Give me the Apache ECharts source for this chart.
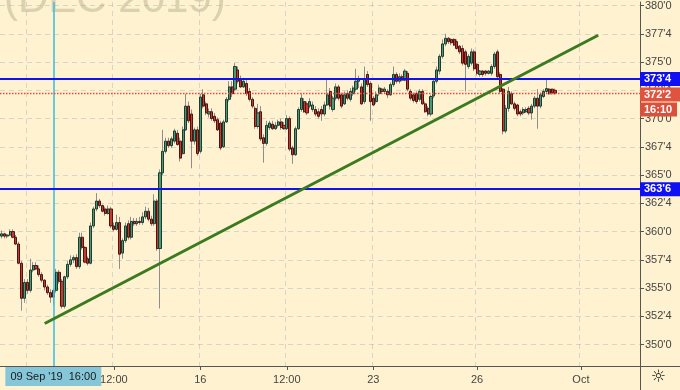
<!DOCTYPE html>
<html><head><meta charset="utf-8">
<script src="https://cdn.jsdelivr.net/npm/echarts@6/dist/echarts.min.js"></script>
<style>html,body{margin:0;padding:0;background:#fef2d0}#c{width:680px;height:390px}</style>
</head><body><div id="c"></div>
<script>
const opens = [
359.6,359.8,359.6,359.7,360.0,359.5,358.9,357.2,354.1,355.5,
354.8,356.6,357.0,356.7,356.2,355.7,355.1,354.6,354.2,354.8,
356.4,355.6,353.4,356.0,357.1,357.5,357.7,356.9,359.5,358.6,
357.6,357.2,360.5,362.0,362.7,362.3,362.0,361.6,362.0,360.5,
360.2,360.8,358.1,359.2,360.7,359.5,360.9,360.7,360.9,360.8,
361.3,361.8,361.1,360.7,362.7,358.5,365.2,367.1,368.0,367.6,
368.0,368.7,368.0,366.9,369.0,371.1,370.4,368.0,369.0,367.1,
372.1,371.3,370.4,370.6,370.2,369.9,369.6,367.5,369.7,371.7,
372.8,372.6,374.3,373.4,372.8,373.1,372.4,371.7,370.9,369.3,
370.6,368.3,367.8,369.2,369.5,369.1,369.4,369.7,369.4,369.1,
370.0,367.4,366.8,369.1,370.8,371.5,371.3,371.1,370.8,370.8,
370.6,370.8,370.4,371.2,372.4,370.8,371.8,372.8,372.1,371.3,
372.2,371.7,372.2,372.6,373.3,372.8,371.5,373.9,373.1,371.8,
371.5,372.2,372.6,372.4,372.4,372.1,373.0,373.9,373.3,373.7,
373.4,374.0,372.4,372.1,372.2,371.7,372.4,371.3,370.9,370.4,
372.0,373.3,374.2,375.5,376.6,377.1,377.0,377.0,376.8,376.4,
376.2,375.9,374.6,374.9,375.9,374.8,373.9,374.2,374.2,374.0,
374.0,374.6,375.9,373.9,372.6,368.9,370.9,372.2,371.3,371.2,
370.6,370.5,370.6,370.9,370.5,371.1,371.8,371.1,371.95,372.4,
372.6,372.6,372.5
];
const closes = [
359.8,359.6,359.7,360.0,359.5,358.9,357.2,354.1,355.5,354.8,
356.6,357.0,356.7,356.2,355.7,355.1,354.6,354.2,354.8,356.4,
355.6,353.4,356.0,357.1,357.5,357.7,356.9,359.5,358.6,357.3,
357.2,360.5,362.0,362.7,362.3,361.8,361.6,362.0,360.5,360.2,
360.8,358.0,359.2,360.5,359.5,360.9,360.7,360.9,360.8,361.3,
361.8,361.1,360.7,362.7,358.5,365.2,367.1,368.0,367.6,368.2,
368.9,367.7,366.5,369.0,371.1,369.8,368.0,369.0,366.9,371.9,
371.1,370.5,370.6,370.0,369.8,369.0,367.4,369.7,371.7,372.8,
372.2,374.6,373.3,372.8,373.3,372.2,371.7,371.1,369.3,370.5,
368.2,367.8,369.4,369.6,369.1,369.4,369.7,369.2,369.1,370.0,
367.3,366.8,369.1,370.8,371.8,370.6,370.5,371.5,371.2,370.4,
370.2,370.4,371.2,372.1,371.1,371.8,372.8,371.8,371.1,372.1,
371.8,372.4,372.7,373.3,373.5,371.3,373.5,373.0,371.5,371.2,
372.1,372.7,372.4,372.6,372.1,373.0,373.9,373.3,373.7,373.4,
374.2,372.6,371.8,371.6,371.5,372.4,371.3,370.6,370.4,371.95,
373.3,374.3,375.5,376.6,377.1,376.8,376.7,376.5,376.2,375.9,
374.9,374.8,375.5,375.9,374.4,374.0,374.2,373.9,374.0,374.2,
374.6,375.7,373.7,372.4,368.9,370.9,372.4,371.3,370.9,370.4,
370.4,370.8,370.8,370.5,371.1,371.8,371.1,372.1,372.4,372.65,
372.2,372.3,372.25
];
const lows = [
359.4,359.4,359.4,359.6,359.4,358.8,357.1,353.0,353.7,354.5,
354.6,356.4,356.6,356.0,355.5,354.8,354.4,353.7,353.5,354.6,
355.4,353.2,353.2,355.8,356.9,357.2,356.7,356.7,358.4,357.2,
357.0,357.1,360.3,361.8,362.1,361.7,361.4,361.5,360.3,360.0,
360.1,356.7,357.6,359.0,359.3,359.3,360.5,360.5,360.6,360.6,
361.1,360.9,360.5,360.5,358.3,353.2,365.0,366.9,367.4,367.4,
367.8,367.6,366.2,366.8,368.9,369.6,365.6,367.7,366.7,366.9,
370.9,370.3,370.1,369.8,369.6,368.9,367.2,367.4,369.6,371.5,
371.9,372.4,373.1,372.7,372.7,372.0,371.5,370.9,369.1,369.1,
368.0,366.1,367.6,369.0,369.0,369.0,369.2,369.0,369.0,369.0,
367.1,366.0,366.7,369.0,370.6,370.5,370.3,370.9,370.6,370.2,
370.0,369.8,370.2,371.1,370.8,370.6,371.6,371.6,370.9,371.2,
371.6,371.5,372.0,372.4,372.7,371.2,371.3,372.8,369.8,371.1,
371.3,372.0,372.2,372.2,371.8,372.0,372.8,373.1,373.1,373.3,
373.3,372.4,371.6,371.4,371.3,371.5,371.2,370.5,370.2,370.2,
371.8,373.1,373.9,375.3,376.4,376.6,376.5,376.4,376.1,375.7,
374.7,372.4,374.4,374.7,374.2,373.8,373.7,373.7,373.8,373.9,
373.8,374.4,373.5,372.2,368.6,368.7,370.6,371.2,370.7,370.2,
370.2,370.3,370.5,370.3,369.9,370.9,369.1,370.9,371.8,372.2,
372.1,372.1,372.1
];
const highs = [
360.1,359.9,359.8,360.2,360.2,359.7,359.1,357.4,355.8,355.8,
357.6,357.3,357.3,357.0,356.4,355.8,355.3,354.9,355.0,356.7,
356.6,355.8,356.1,357.4,357.9,357.9,358.0,359.9,359.9,358.7,
357.8,360.8,362.2,363.4,362.9,362.4,362.2,362.3,362.2,360.8,
361.5,361.3,359.4,360.8,361.0,361.3,361.2,361.2,361.3,361.7,
362.2,362.1,361.4,363.3,362.9,365.5,369.0,368.3,368.3,368.4,
369.1,369.0,368.3,369.3,372.2,371.5,370.8,369.2,369.3,372.2,
372.6,371.5,370.9,370.9,370.5,370.1,369.8,369.9,371.9,373.3,
373.3,374.9,374.6,373.8,373.6,373.4,372.7,371.9,371.1,371.3,
371.1,368.6,369.8,369.8,369.8,369.7,369.9,370.0,369.7,370.3,
370.2,367.6,369.3,371.0,372.2,371.8,371.5,371.8,371.5,371.1,
370.9,371.1,371.5,373.4,372.7,372.0,373.1,373.0,372.3,372.4,
372.5,372.7,372.9,374.4,373.8,373.1,374.6,374.2,373.3,372.0,
372.4,373.0,372.7,372.8,372.6,373.2,374.6,374.1,374.0,373.9,
374.4,374.2,372.6,372.3,372.4,372.6,372.6,371.5,371.1,372.1,
373.4,374.6,375.7,377.0,377.5,377.2,377.1,377.1,377.0,376.5,
376.5,376.1,375.7,376.2,376.1,374.9,374.3,374.3,374.3,374.3,
374.8,375.9,376.1,374.1,372.7,371.2,372.8,372.4,371.5,371.3,
370.8,371.0,371.0,371.1,371.3,372.0,372.6,372.3,372.6,373.5,
372.7,372.65,372.65
];
const numSlots = 222;
const tickIdx = [39, 69, 99, 129, 165, 201];
const tickText = ['12:00', '16', '12:00', '23', '26', 'Oct'];
const gridIdx = [9, 39, 69, 99, 129, 165, 201];
const yTicks = [350, 352.5, 355, 357.5, 360, 362.5, 365, 367.5, 370, 372.5, 375, 377.5, 380];
const yMin = 348.11, yMax = 380.31;
const levels = [373.5, 363.75];
const lastPrice = 372.25;
const countdown = '16:10';
const trendStart = [15, 351.87];
const trendEnd = [207, 377.37];
const cursorIdx = 18;
const cursorText = "09 Sep '19  16:00";
const watermark = '(DEC 2019)';

const categories = new Array(numSlots).fill('');
tickIdx.forEach((k, j) => { categories[k] = tickText[j]; });
const wickData = opens.map((o, i) => [o, closes[i], lows[i], highs[i]]);
const bodyData = opens.map((o, i) => [o, closes[i], Math.min(o, closes[i]), Math.max(o, closes[i])]);
const fmt = v => { const n = Math.floor(v + 1e-9); return n + "'" + Math.round((v - n) * 8); };

const blueLabel = {
  show: true, position: 'end', distance: 0, formatter: p => fmt(p.value),
  color: '#fff', fontWeight: 'bold', fontSize: 11, fontFamily: 'Liberation Sans',
  backgroundColor: '#1010f5', padding: [2, 4, 1, 4], width: 32, align: 'left'
};

const chart = echarts.init(document.getElementById('c'));
chart.setOption({
  backgroundColor: '#fef2d0',
  animation: false,
  grid: { left: 0, right: 40, top: 0, bottom: 24, containLabel: false },
  graphic: [
    { type: 'text', x: 4, y: -21, z: 0, silent: true,
      style: { text: watermark, font: '42px "Liberation Sans"', fill: '#dad1ae' } },
    { type: 'line', silent: true, shape: { x1: 640.5, y1: 366, x2: 640.5, y2: 390 }, style: { stroke: '#555', lineWidth: 1 } },
    { type: 'line', silent: true, shape: { x1: 640, y1: 366.5, x2: 680, y2: 366.5 }, style: { stroke: '#555', lineWidth: 1 } },
    { type: 'text', x: 651, y: 369, silent: true,
      style: { text: '☼', font: '17px "DejaVu Sans"', fill: '#222' } }
  ],
  xAxis: {
    type: 'category', data: categories, boundaryGap: true,
    axisLine: { lineStyle: { color: '#555' } },
    axisTick: { show: true, alignWithLabel: true, length: 4, lineStyle: { color: '#555' },
      interval: (i) => tickIdx.includes(i) },
    axisLabel: { color: '#444', fontSize: 11, fontFamily: 'Liberation Sans', margin: 8,
      interval: (i) => tickIdx.includes(i) },
    splitLine: { show: true, interval: (i) => gridIdx.includes(i),
      lineStyle: { color: 'rgba(150,165,185,0.38)', type: [5, 4] } }
  },
  yAxis: {
    type: 'value', position: 'right', min: yMin, max: yMax, scale: true,
    axisLine: { show: true, lineStyle: { color: '#555' } },
    axisTick: { show: true, length: 4, customValues: yTicks, lineStyle: { color: '#555' } },
    axisLabel: { customValues: yTicks, formatter: fmt, color: '#444', fontSize: 11,
      fontFamily: 'Liberation Sans', margin: 5 },
    splitLine: { show: true, lineStyle: { color: 'rgba(150,165,185,0.38)', type: [5, 4] } }
  },
  series: [
    { type: 'line', name: 'cursor', data: [], clip: false, silent: true, z: 1,
      markLine: { symbol: 'none', silent: true, animation: false,
        data: [ { xAxis: cursorIdx,
          lineStyle: { color: '#3fc0e0', width: 1.6, type: 'solid', opacity: 1 },
          label: { show: true, position: 'start', distance: 1, formatter: () => cursorText,
            backgroundColor: '#85c7d8', color: '#1a1a1a', fontSize: 11, fontFamily: 'Liberation Sans',
            padding: [4, 5, 4, 5] } } ] } },
    { type: 'candlestick', name: 'wicks', data: wickData, barWidth: 1, silent: true, z: 2,
      itemStyle: { color: '#8e8e8e', color0: '#8e8e8e', borderColor: '#8e8e8e', borderColor0: '#8e8e8e', borderWidth: 1 } },
    { type: 'candlestick', name: 'bodies', data: bodyData, barWidth: 2.6, silent: true, z: 3,
      itemStyle: { color: '#4a9878', color0: '#c43a2f', borderColor: '#1e3b2d', borderColor0: '#4b1612', borderWidth: 1 } },
    { type: 'line', name: 'annotations', data: [], clip: false, silent: true, z: 5,
      markLine: {
        symbol: 'none', silent: true, animation: false,
        data: [
          { yAxis: levels[0], lineStyle: { color: '#1010f5', width: 2, type: 'solid' }, label: blueLabel },
          { yAxis: levels[1], lineStyle: { color: '#1010f5', width: 2, type: 'solid' }, label: blueLabel },
          { yAxis: lastPrice, lineStyle: { color: '#f0492f', width: 1.4, type: [1.5, 1.5] },
            label: { show: true, position: 'end', distance: 0,
              formatter: () => '{s| }\n{a|' + fmt(lastPrice) + '}\n{g| }\n{b|' + countdown + '}',
              rich: {
                s: { height: 18, lineHeight: 18, fontSize: 1 },
                a: { backgroundColor: '#e0533f', color: '#fff', fontWeight: 'bold', fontSize: 11,
                  fontFamily: 'Liberation Sans', padding: [2, 4, 1, 4], width: 32, lineHeight: 13 },
                g: { height: 2, lineHeight: 2, fontSize: 1 },
                b: { backgroundColor: '#d9503c', color: '#fff', fontWeight: 'bold', fontSize: 11,
                  fontFamily: 'Liberation Sans', padding: [2, 3, 1, 4], width: 30, lineHeight: 13 }
              } } },
          [ { coord: trendStart, lineStyle: { color: '#3b7a1f', width: 3, type: 'solid' }, label: { show: false } },
            { coord: trendEnd } ]
        ]
      } }
  ]
});
</script>
</body></html>
